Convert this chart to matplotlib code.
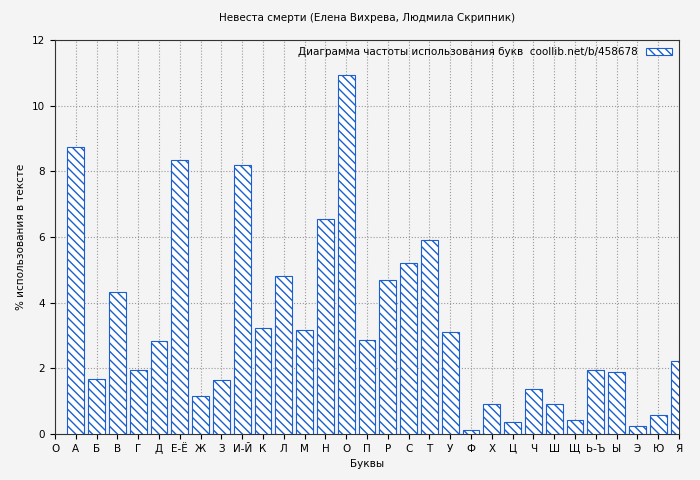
import matplotlib
matplotlib.use("Agg")
import matplotlib.pyplot as plt

letters = ["А","Б","В","Г","Д","Е-Ё","Ж","З","И-Й","К","Л","М","Н","О","П","Р","С","Т","У","Ф","Х","Ц","Ч","Ш","Щ","Ь-Ъ","Ы","Э","Ю","Я"]
values = [8.74,1.68,4.33,1.95,2.83,8.35,1.16,1.65,8.19,3.23,4.81,3.17,6.55,10.94,2.86,4.69,5.21,5.91,3.11,0.12,0.91,0.37,1.37,0.91,0.43,1.95,1.89,0.24,0.58,2.22]

plt.rcParams['font.family'] = ['DejaVu Sans']
plt.rcParams['font.size'] = 7.5
plt.rcParams['hatch.color'] = '#1a5fd0'
fig = plt.figure(figsize=(7, 4.8), dpi=100, facecolor='#f4f4f4')
ax = fig.add_axes([55/700, 46/480, 624/700, 394/480])
ax.set_facecolor('#f4f4f4')
x = list(range(1, len(letters)+1))
ax.bar(x, values, width=0.8, facecolor='white', edgecolor='#1a5fd0', hatch='\\\\\\\\', linewidth=0.8,
       label='Диаграмма частоты использования букв  coollib.net/b/458678', zorder=3)
ax.set_xlim(0, 30)
ax.set_ylim(0, 12)
ax.set_xticks([0] + x)
ax.set_xticklabels(["О"] + letters)
ax.set_yticks(range(0, 13, 2))
ax.grid(True, linestyle=':', color='#999999', linewidth=0.8, zorder=0)
ax.set_axisbelow(True)
for s in ax.spines.values():
    s.set_color('#333333')
ax.set_xlabel('Буквы')
ax.set_ylabel('% использования в тексте')
ax.set_title('Невеста смерти (Елена Вихрева, Людмила Скрипник)', fontsize=7.5, pad=14)
leg = ax.legend(loc='upper right', frameon=False, markerfirst=False, handlelength=2.5, borderaxespad=0.3)
fig.savefig('out.png', dpi=100, facecolor=fig.get_facecolor())
